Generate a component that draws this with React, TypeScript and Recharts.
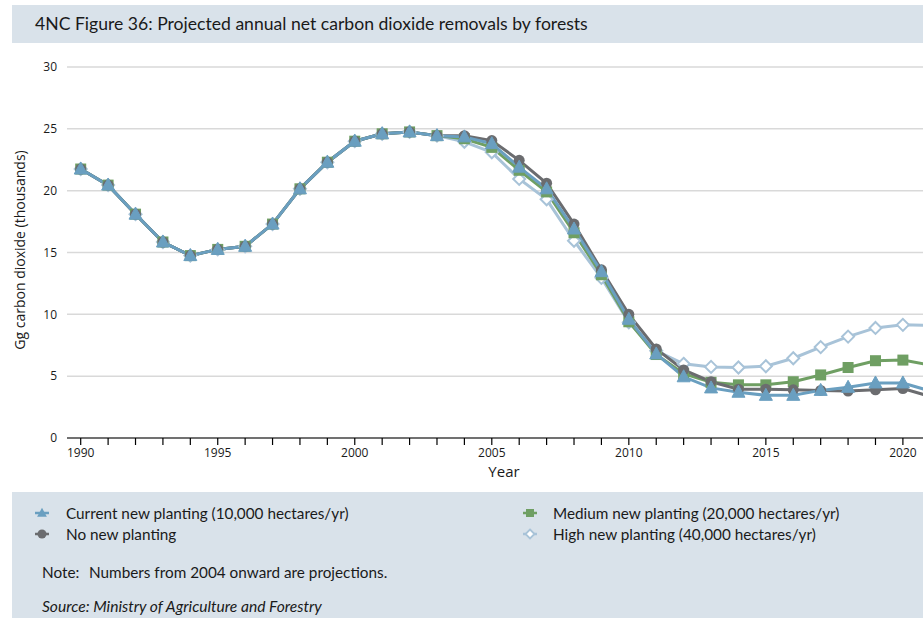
import React from 'react';
import { LineChart, Line, XAxis, YAxis, CartesianGrid } from 'recharts';

const years = [1990, 1991, 1992, 1993, 1994, 1995, 1996, 1997, 1998, 1999, 2000, 2001, 2002, 2003, 2004, 2005, 2006, 2007, 2008, 2009, 2010, 2011, 2012, 2013, 2014, 2015, 2016, 2017, 2018, 2019, 2020, 2021];
const historical = [21.75, 20.45, 18.1, 15.85, 14.75, 15.25, 15.5, 17.3, 20.15, 22.3, 24.0, 24.6, 24.75, 24.45];
const currentProj = [24.35, 23.8, 21.9, 20.15, 16.9, 13.45, 9.6, 6.8, 4.95, 4.05, 3.7, 3.45, 3.45, 3.85, 4.1, 4.45, 4.45, 3.8];
const noNewProj = [24.45, 24.05, 22.45, 20.6, 17.3, 13.6, 10.0, 7.2, 5.5, 4.55, 3.95, 3.95, 3.9, 3.85, 3.8, 3.9, 4.0, 3.35];
const mediumProj = [24.2, 23.5, 21.65, 19.9, 16.6, 13.2, 9.4, 6.75, 5.2, 4.5, 4.3, 4.3, 4.55, 5.1, 5.7, 6.25, 6.3, 5.9];
const highProj = [23.95, 23.1, 20.95, 19.3, 15.95, 12.95, 9.35, 7.05, 6.0, 5.75, 5.7, 5.8, 6.45, 7.35, 8.2, 8.9, 9.15, 9.1];
const yTicks = [0, 5, 10, 15, 20, 25, 30];
const xLabelYears = [1990, 1995, 2000, 2005, 2010, 2015, 2020];

const seriesNames = {
  current: 'Current new planting (10,000 hectares/yr)',
  noNew: 'No new planting',
  medium: 'Medium new planting (20,000 hectares/yr)',
  high: 'High new planting (40,000 hectares/yr)',
};

const BLUE = '#6a9fc0';
const GREY = '#6b6c6f';
const GREEN = '#6f9f63';
const LIGHT = '#a8c3d8';
const PANEL = '#d9e2ea';

const data = years.map((year, i) => {
  const h = i < historical.length ? historical[i] : null;
  const j = i - historical.length;
  return {
    year,
    current: h !== null ? h : currentProj[j],
    noNew: h !== null ? h : noNewProj[j],
    medium: h !== null ? h : mediumProj[j],
    high: h !== null ? h : highProj[j],
  };
});

const triPath = (cx: number, cy: number, s = 1) =>
  `M${cx},${cy - 7 * s} L${cx + 6.5 * s},${cy + 5 * s} L${cx - 6.5 * s},${cy + 5 * s} Z`;

const TriDot = (p: any) => {
  if (p.cx == null || p.cy == null) return null;
  return <path key={`t${p.index}`} d={triPath(p.cx, p.cy)} fill={BLUE} stroke={BLUE} strokeWidth={1} />;
};
const CircleDot = (p: any) => {
  if (p.cx == null || p.cy == null) return null;
  return <circle key={`c${p.index}`} cx={p.cx} cy={p.cy} r={5.5} fill={GREY} />;
};
const SquareDot = (p: any) => {
  if (p.cx == null || p.cy == null) return null;
  return <rect key={`s${p.index}`} x={p.cx - 5.5} y={p.cy - 5.5} width={11} height={11} fill={GREEN} />;
};
const DiamondDot = (p: any) => {
  if (p.cx == null || p.cy == null) return null;
  return (
    <path
      key={`d${p.index}`}
      d={`M${p.cx},${p.cy - 6} L${p.cx + 6},${p.cy} L${p.cx},${p.cy + 6} L${p.cx - 6},${p.cy} Z`}
      fill="#ffffff"
      stroke={LIGHT}
      strokeWidth={2}
    />
  );
};

const LegendIcon = ({ kind }: { kind: string }) => {
  const color = kind === 'current' ? BLUE : kind === 'noNew' ? GREY : kind === 'medium' ? GREEN : LIGHT;
  let mark: React.ReactNode = null;
  if (kind === 'current') mark = <path d={triPath(8, 7, 0.75)} fill={BLUE} />;
  if (kind === 'noNew') mark = <circle cx={8} cy={7} r={4.5} fill={GREY} />;
  if (kind === 'medium') mark = <rect x={4} y={3} width={8} height={8} fill={GREEN} />;
  if (kind === 'high')
    mark = <path d="M8,2.5 L12.5,7 L8,11.5 L3.5,7 Z" fill="#fff" stroke={LIGHT} strokeWidth={1.8} />;
  return (
    <svg width={16} height={14} style={{ display: 'block' }}>
      <line x1={1} y1={7} x2={15} y2={7} stroke={color} strokeWidth={2.5} />
      {mark}
    </svg>
  );
};

const text = (
  content: React.ReactNode,
  left: number,
  centerY: number,
  extra: React.CSSProperties = {}
) => (
  <div
    style={{
      position: 'absolute',
      left,
      top: centerY - 11,
      height: 22,
      lineHeight: '22px',
      fontSize: 15.3,
      color: '#1a1a1a',
      whiteSpace: 'nowrap',
      fontFamily: 'Lato, sans-serif',
      ...extra,
    }}
  >
    {content}
  </div>
);

const legendItem = (kind: string, iconX: number, textX: number, cy: number) => (
  <React.Fragment key={kind}>
    <div style={{ position: 'absolute', left: iconX - 8, top: cy - 7 }}>
      <LegendIcon kind={kind} />
    </div>
    {text((seriesNames as any)[kind], textX, cy)}
  </React.Fragment>
);

export default function App() {
  return (
    <div
      style={{
        position: 'fixed',
        left: 0,
        top: 0,
        width: 923,
        height: 618,
        overflow: 'hidden',
        background: '#ffffff',
        fontFamily: 'Lato, sans-serif',
      }}
    >
      <div style={{ position: 'absolute', left: 12, top: 5, width: 911, height: 38, background: PANEL }} />
      {text('4NC Figure 36: Projected annual net carbon dioxide removals by forests', 35, 24, { fontSize: 17.6 })}

      <div style={{ position: 'absolute', left: 0, top: 0 }}>
        <LineChart
          width={960}
          height={480}
          data={data}
          margin={{ top: 67, right: 16, bottom: 12, left: 0 }}
        >
          <CartesianGrid horizontal vertical={false} stroke="#d9d9d9" strokeWidth={1.5} />
          <XAxis
            dataKey="year"
            type="number"
            domain={[1989.5, 2021.5]}
            ticks={years}
            interval={0}
            tickFormatter={(v: number) => (xLabelYears.includes(v) ? String(v) : '')}
            tick={{ fontSize: 12, fill: '#1a1a1a', fontFamily: '"Open Sans", sans-serif' }}
            tickLine={{ stroke: '#000', strokeWidth: 1.2 }}
            axisLine={{ stroke: '#000', strokeWidth: 1.2 }}
            tickSize={7}
            tickMargin={3}
            height={30}
            allowDataOverflow
          />
          <YAxis
            type="number"
            domain={[0, 30]}
            ticks={yTicks}
            interval={0}
            axisLine={false}
            tickLine={false}
            width={67}
            tickMargin={4}
            tick={{ fontSize: 12, fill: '#1a1a1a', fontFamily: '"Open Sans", sans-serif' }}
          />
          <Line
            dataKey="high"
            name={seriesNames.high}
            stroke={LIGHT}
            strokeWidth={3}
            dot={DiamondDot}
            activeDot={false}
            isAnimationActive={false}
          />
          <Line
            dataKey="medium"
            name={seriesNames.medium}
            stroke={GREEN}
            strokeWidth={3}
            dot={SquareDot}
            activeDot={false}
            isAnimationActive={false}
          />
          <Line
            dataKey="noNew"
            name={seriesNames.noNew}
            stroke={GREY}
            strokeWidth={3}
            dot={CircleDot}
            activeDot={false}
            isAnimationActive={false}
          />
          <Line
            dataKey="current"
            name={seriesNames.current}
            stroke={BLUE}
            strokeWidth={3}
            dot={TriDot}
            activeDot={false}
            isAnimationActive={false}
          />
        </LineChart>
      </div>

      <div
        style={{
          position: 'absolute',
          left: 20 - 110,
          top: 250 - 10,
          width: 220,
          height: 20,
          lineHeight: '20px',
          textAlign: 'center',
          transform: 'rotate(-90deg)',
          fontSize: 14,
          fontFamily: '"Open Sans", sans-serif',
          color: '#1a1a1a',
          whiteSpace: 'nowrap',
        }}
      >
        Gg carbon dioxide (thousands)
      </div>
      <div
        style={{
          position: 'absolute',
          left: 504 - 40,
          top: 471 - 10,
          width: 80,
          height: 20,
          lineHeight: '20px',
          textAlign: 'center',
          fontSize: 15,
          fontFamily: '"Open Sans", sans-serif',
          color: '#1a1a1a',
        }}
      >
        Year
      </div>

      <div style={{ position: 'absolute', left: 12, top: 492, width: 911, height: 126, background: PANEL }} />
      {legendItem('current', 42, 66, 513)}
      {legendItem('noNew', 42, 66, 534)}
      {legendItem('medium', 530, 553, 513)}
      {legendItem('high', 530, 553, 534)}
      {text('Note:', 42, 572)}
      {text('Numbers from 2004 onward are projections.', 89, 572)}
      {text('Source: Ministry of Agriculture and Forestry', 42, 606, { fontStyle: 'italic', fontSize: 15.6 })}
    </div>
  );
}
